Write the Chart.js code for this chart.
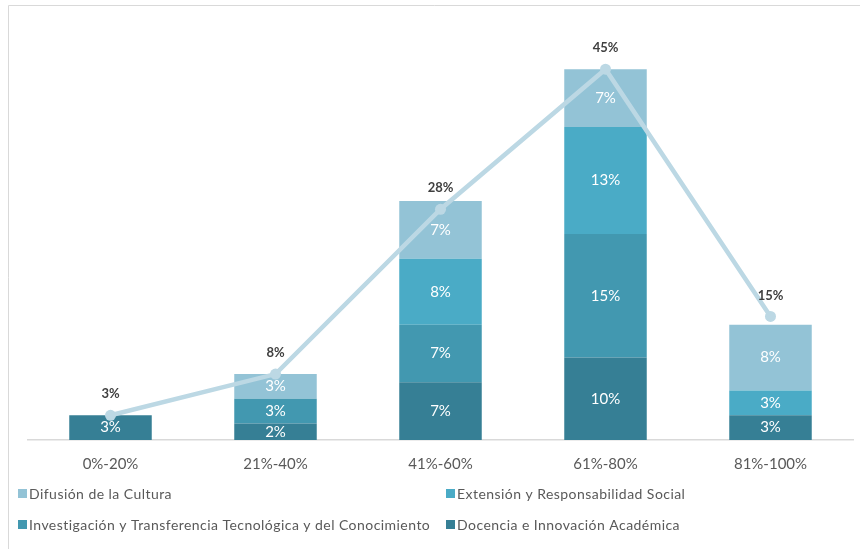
<!DOCTYPE html>
<html lang="es">
<head>
<meta charset="utf-8">
<title>Distribución por rango</title>
<script src="https://cdn.jsdelivr.net/npm/chart.js@4.4.1/dist/chart.umd.min.js"></script>
<style>
    html, body { margin: 0; padding: 0; background: #fff; }
    #wrap { position: relative; width: 860px; height: 549px; }
</style>
</head>
<body>
<div id="wrap"><canvas id="grafico" width="860" height="549"></canvas></div>
<script>
// ===================== DATOS =====================
const rangos        = ["0%-20%", "21%-40%", "41%-60%", "61%-80%", "81%-100%"];
const docencia      = [3, 2, 7, 10, 3];
const investigacion = [null, 3, 7, 15, null];
const extension     = [null, null, 8, 13, 3];
const difusion      = [null, 3, 7, 7, 8];
const totales       = [3, 8, 28, 45, 15];

// ===================== COLORES =====================
const COR_DOCENCIA  = "#367f95";
const COR_INVEST    = "#4298b0";
const COR_EXTENSION = "#4aabc6";
const COR_DIFUSION  = "#93c3d6";
const COR_LINEA     = "#bcd8e4";
const COR_TEXTO     = "#595959";
const COR_EJE       = "#d9d9d9";
const FUENTE        = "Lato, 'Open Sans', sans-serif";

// leyenda en dos columnas, en el mismo orden que Excel
const leyenda = [
    { texto: "Difusión de la Cultura", color: COR_DIFUSION, x: 18, y: 494 },
    { texto: "Extensión y Responsabilidad Social", color: COR_EXTENSION, x: 446, y: 494 },
    { texto: "Investigación y Transferencia Tecnológica y del Conocimiento", color: COR_INVEST, x: 18, y: 525 },
    { texto: "Docencia e Innovación Académica", color: COR_DOCENCIA, x: 446, y: 525 },
];

// marco del área del gráfico
const marco = {
    id: "marco",
    beforeDraw(chart) {
        const ctx = chart.ctx;
        ctx.save();
        ctx.strokeStyle = COR_EJE;
        ctx.lineWidth = 1;
        ctx.beginPath();
        ctx.moveTo(8.5, 549);
        ctx.lineTo(8.5, 5.5);
        ctx.lineTo(860, 5.5);
        ctx.stroke();
        ctx.restore();
    }
};

// etiquetas de porcentaje dentro de las barras y sobre la línea
const etiquetas = {
    id: "etiquetas",
    afterDatasetsDraw(chart) {
        const ctx = chart.ctx;
        ctx.save();
        ctx.textAlign = "center";
        ctx.textBaseline = "middle";
        chart.data.datasets.forEach((ds, i) => {
            const meta = chart.getDatasetMeta(i);
            meta.data.forEach((el, j) => {
                const v = ds.data[j];
                if (v === null || v === undefined) return;
                if (ds.type === "line") {
                    ctx.font = "bold 13px " + FUENTE;
                    ctx.fillStyle = "#404040";
                    ctx.fillText(v + "%", el.x, el.y - 21);
                } else {
                    ctx.font = "15px " + FUENTE;
                    ctx.fillStyle = "#ffffff";
                    ctx.fillText(v + "%", el.x, (el.y + el.base) / 2);
                }
            });
        });
        ctx.restore();
    },
    afterDraw(chart) {
        const ctx = chart.ctx;
        ctx.save();
        ctx.font = "14px " + FUENTE;
        ctx.letterSpacing = "0.45px";
        ctx.textBaseline = "middle";
        ctx.textAlign = "left";
        leyenda.forEach(l => {
            ctx.fillStyle = l.color;
            ctx.fillRect(l.x, l.y - 5, 9, 9);
            ctx.fillStyle = COR_TEXTO;
            ctx.fillText(l.texto, l.x + 11, l.y);
        });
        ctx.restore();
    }
};

function barra(label, data, color) {
    return {
        type: "bar",
        label,
        data,
        backgroundColor: color,
        borderWidth: 0,
        stack: "rangos",
        order: 1,
        barPercentage: 0.5,
        categoryPercentage: 1,
    };
}

new Chart(document.getElementById("grafico"), {
    data: {
        labels: rangos,
        datasets: [
            {
                type: "line",
                label: "Total",
                data: totales,
                borderColor: COR_LINEA,
                backgroundColor: COR_LINEA,
                borderWidth: 4.5,
                pointRadius: 5.5,
                pointBorderWidth: 0,
                pointBackgroundColor: COR_LINEA,
                tension: 0,
                stack: "total",
                order: 0,
            },
            barra("Docencia e Innovación Académica", docencia, COR_DOCENCIA),
            barra("Investigación y Transferencia Tecnológica y del Conocimiento", investigacion, COR_INVEST),
            barra("Extensión y Responsabilidad Social", extension, COR_EXTENSION),
            barra("Difusión de la Cultura", difusion, COR_DIFUSION),
        ],
    },
    options: {
        responsive: false,
        animation: false,
        layout: { padding: { top: 28, left: 28, right: 7, bottom: 0 } },
        plugins: {
            legend: { display: false },
            tooltip: { enabled: false },
        },
        scales: {
            x: {
                stacked: true,
                grid: { display: false, drawTicks: false },
                border: { color: COR_EJE, width: 1.5 },
                ticks: { color: COR_TEXTO, font: { family: FUENTE, size: 15 }, padding: 15 },
                afterFit: s => { s.height = 109; },
            },
            y: {
                stacked: true,
                display: false,
                min: 0,
                max: 50,
            },
        },
    },
    plugins: [marco, etiquetas],
});
</script>
</body>
</html>
